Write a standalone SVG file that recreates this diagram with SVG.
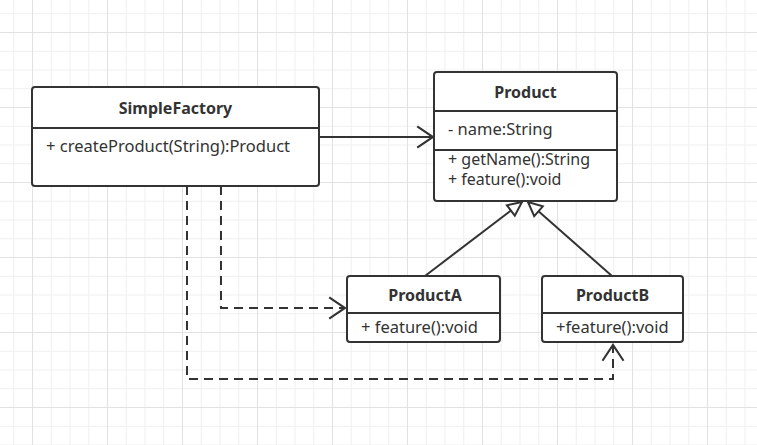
<svg xmlns="http://www.w3.org/2000/svg" width="757" height="445" viewBox="0 0 757 445">
<style>
.box{fill:#fff;stroke:#333;stroke-width:2}
.div{stroke:#333;stroke-width:2;fill:none}
.title{font-family:"Noto Sans","Liberation Sans",sans-serif;font-size:16px;font-weight:bold;fill:#333;text-anchor:middle}
.txt{font-family:"Noto Sans","Liberation Sans",sans-serif;font-size:16.5px;fill:#333}
.tight{font-size:16px}
.edge{fill:none;stroke:#333;stroke-width:2}
.dash{stroke-dasharray:9 6}
</style>
<defs>
<pattern id="minor" patternUnits="userSpaceOnUse" x="32" y="32" width="18.75" height="18.75">
<path d="M0 0.5H18.75M0.5 0V18.75" stroke="#efefef" stroke-width="1" fill="none"/>
</pattern>
<pattern id="major" patternUnits="userSpaceOnUse" x="32" y="32" width="75" height="75">
<path d="M0 0.5H75M0.5 0V75" stroke="#e2e2e2" stroke-width="1" fill="none"/>
</pattern>
<marker id="open" markerUnits="userSpaceOnUse" markerWidth="20" markerHeight="26" viewBox="-17 -12 19 24" refX="0" refY="0" orient="auto">
<path d="M-15 -10L0 0L-15 10" fill="none" stroke="#333" stroke-width="2" stroke-dasharray="none"/>
</marker>
<marker id="tri" markerUnits="userSpaceOnUse" markerWidth="20" markerHeight="20" viewBox="-17 -10 19 20" refX="0" refY="0" orient="auto">
<path d="M0 0L-14 -6.5L-14 6.5Z" fill="#fff" stroke="#333" stroke-width="2"/>
</marker>
</defs>
<rect width="757" height="445" fill="#fff"/>
<rect width="757" height="445" fill="url(#minor)"/>
<rect width="757" height="445" fill="url(#major)"/>

<g id="connectors">
<path class="edge" d="M320 137H433" marker-end="url(#open)"/>
<path class="edge dash" d="M221 186V308H345" marker-end="url(#open)"/>
<path class="edge dash" d="M187 186V379H613V345" marker-end="url(#open)"/>
<path class="edge" d="M425 276L522 202" marker-end="url(#tri)"/>
<path class="edge" d="M612 276L528 202" marker-end="url(#tri)"/>
</g>

<g id="SimpleFactory">
<rect class="box" x="32" y="87" width="287" height="99" rx="3"/>
<path class="div" d="M32 128H319"/>
<text class="title" x="175.5" y="114">SimpleFactory</text>
<text class="txt" x="46" y="152">+ createProduct(String):Product</text>
</g>

<g id="Product">
<rect class="box" x="434" y="72" width="183" height="129" rx="3"/>
<path class="div" d="M434 111H617M434 150H617"/>
<text class="title" x="525.5" y="98">Product</text>
<text class="txt" x="448" y="135">- name:String</text>
<text class="txt tight" x="448" y="165">+ getName():String</text>
<text class="txt tight" x="448" y="185">+ feature():void</text>
</g>

<g id="ProductA">
<rect class="box" x="347" y="276" width="153" height="66" rx="3"/>
<path class="div" d="M347 313H500"/>
<text class="title" x="425" y="301">ProductA</text>
<text class="txt" x="361" y="333">+ feature():void</text>
</g>

<g id="ProductB">
<rect class="box" x="542" y="276" width="141" height="66" rx="3"/>
<path class="div" d="M542 313H683"/>
<text class="title" x="612.5" y="301">ProductB</text>
<text class="txt" x="556" y="333">+feature():void</text>
</g>
</svg>
